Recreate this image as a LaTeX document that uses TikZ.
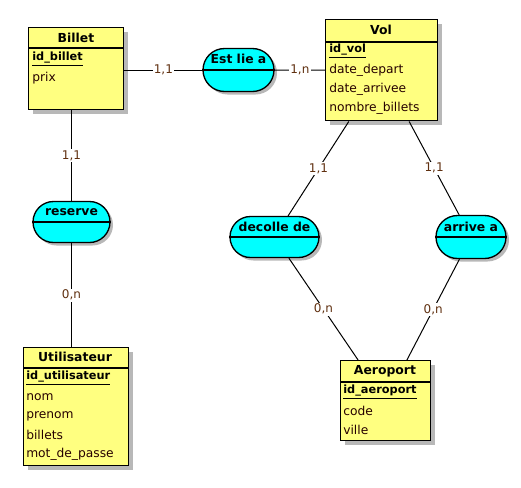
\documentclass[tikz,border=0pt]{standalone}
\usepackage{fontspec}
\setmainfont{DejaVu Sans}
\usetikzlibrary{shapes.misc,shadows}

\definecolor{jaune}{HTML}{FFFF80}
\definecolor{cyanassoc}{HTML}{00FFFF}
\definecolor{brun}{HTML}{603010}
\definecolor{ombre}{HTML}{B8B8B8}
\newcommand{\upx}{0.75pt}

\tikzset{
  entite/.style={draw, line width=1.1pt, fill=jaune, anchor=north west, inner sep=0pt,
    drop shadow={shadow xshift=4*\upx, shadow yshift=-4*\upx, fill=ombre, opacity=1}},
  assoc/.style={draw, line width=1pt, fill=cyanassoc, rounded rectangle, inner sep=0pt,
    drop shadow={shadow xshift=3*\upx, shadow yshift=-3*\upx, fill=ombre, opacity=1}},
  titre/.style={font=\bfseries\fontsize{9.3}{11}\selectfont, inner sep=0pt},
  attr/.style={anchor=west, font=\fontsize{9.2}{11}\selectfont, text=black!85!red, inner sep=0pt},
  cle/.style={attr, font=\bfseries\fontsize{8.5}{10}\selectfont, text=black},
  card/.style={fill=white, inner sep=1pt, font=\fontsize{9}{11}\selectfont, text=brun},
  lien/.style={line width=0.75pt},
  entete/.style={line width=1pt}
}

\begin{document}
\begin{tikzpicture}[x=0.75pt, y=-0.75pt]

    \useasboundingbox (0,0) rectangle (521,487);

    % Entities
    \node[entite, minimum width=95*\upx, minimum height=82*\upx] (billet) at (28,27) {};
    \node[entite, minimum width=112*\upx, minimum height=101*\upx] (vol) at (325,19) {};
    \node[entite, minimum width=105*\upx, minimum height=118*\upx] (utilisateur) at (23,347) {};
    \node[entite, minimum width=90*\upx, minimum height=80*\upx] (aeroport) at (340,360) {};

    % Header lines
    \draw[entete] (billet.north west) ++(0,21) -- ++(95,0);
    \draw[entete] (vol.north west) ++(0,23) -- ++(112,0);
    \draw[entete] (utilisateur.north west) ++(0,21) -- ++(105,0);
    \draw[entete] (aeroport.north west) ++(0,22) -- ++(90,0);

    % Titles and attributes
    \node[titre] at (76,38) {Billet};
    \node[cle] at (32,59) {\underline{id\_billet}};
    \node[attr] at (32,78) {prix};

    \node[titre] at (381,30) {Vol};
    \node[cle] at (329,51) {\underline{id\_vol}};
    \node[attr] at (329,70) {date\_depart};
    \node[attr] at (329,89) {date\_arrivee};
    \node[attr] at (329,108) {nombre\_billets};

    \node[titre] at (75,357) {Utilisateur};
    \node[cle] at (26,378) {\underline{id\_utilisateur}};
    \node[attr] at (26,397) {nom};
    \node[attr] at (26,416) {prenom};
    \node[attr] at (26,435) {billets};
    \node[attr] at (26,454) {mot\_de\_passe};

    \node[titre] at (385,371) {Aeroport};
    \node[cle] at (343,392) {\underline{id\_aeroport}};
    \node[attr] at (343,411) {code};
    \node[attr] at (343,430) {ville};

    % Associations
    \node[assoc, minimum width=71*\upx, minimum height=43*\upx] (estlie) at (238.5,70) {};
    \node[assoc, minimum width=77*\upx, minimum height=41*\upx] (reserve) at (71.5,222) {};
    \node[assoc, minimum width=89*\upx, minimum height=41*\upx] (decolle) at (274.5,237) {};
    \node[assoc, minimum width=70*\upx, minimum height=43*\upx] (arrive) at (471,237) {};

    \foreach \a in {estlie,reserve,decolle,arrive}
      \draw[entete] (\a.west) -- (\a.east);

    \node[titre] at (238.5,59) {Est lie a};
    \node[titre] at (71.5,212) {reserve};
    \node[titre] at (274.5,227) {decolle de};
    \node[titre] at (471,227) {arrive a};

    % Links with cardinalities
    \draw[lien] (estlie) -- (estlie -| billet.east) node[card, pos=0.5] {1,1};
    \draw[lien] (estlie) -- (estlie -| vol.west) node[card, pos=0.5] {1,n};
    \draw[lien] (reserve) -- (reserve |- billet.south) node[card, pos=0.5] {1,1};
    \draw[lien] (reserve) -- (reserve |- utilisateur.north) node[card, pos=0.5] {0,n};
    \draw[lien] (vol) -- (decolle) node[card, pos=0.5] {1,1};
    \draw[lien] (decolle) -- (aeroport) node[card, pos=0.5] {0,n};
    \draw[lien] (vol) -- (arrive) node[card, pos=0.5] {1,1};
    \draw[lien] (arrive) -- (aeroport) node[card, pos=0.5] {0,n};

\end{tikzpicture}
\end{document}
